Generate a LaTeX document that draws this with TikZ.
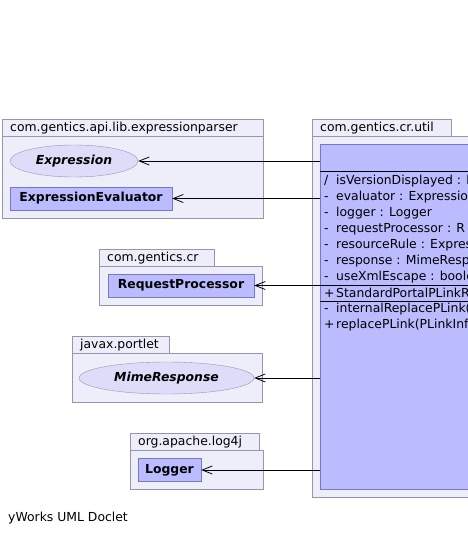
\documentclass[tikz,border=0pt]{standalone}
\usepackage{fontspec}
\setmainfont{DejaVu Sans}
\usepackage{tikz}
\usetikzlibrary{arrows.meta, positioning, shapes.geometric}
\definecolor{pkgfill}{RGB}{238,238,250}
\definecolor{pkgline}{RGB}{150,150,170}
\definecolor{clsfill}{RGB}{187,187,255}
\definecolor{clsline}{RGB}{120,120,190}
\definecolor{ifacefill}{RGB}{221,221,250}
\definecolor{ifaceline}{RGB}{150,150,180}
\newcommand{\visder}{/}

\begin{document}
\begin{tikzpicture}[
  x=1pt, y=-1pt,
  font=\fontsize{12.4}{14}\selectfont,
  pkgtab/.style={draw=pkgline, fill=pkgfill, anchor=north west, minimum height=17pt,
                 inner xsep=8pt, inner ysep=0pt, align=left},
  pkgbody/.style={draw=pkgline, fill=pkgfill, anchor=north west, inner sep=0pt},
  cls/.style={draw=clsline, fill=clsfill, minimum height=23pt, inner xsep=5pt,
              font=\fontsize{12.4}{14}\selectfont\bfseries},
  bigcls/.style={draw=clsline, fill=clsfill, anchor=north west, inner sep=0pt},
  iface/.style={ellipse, draw=ifaceline, fill=ifacefill, inner sep=0pt,
                font=\fontsize{12.4}{14}\selectfont\bfseries\itshape},
  member/.style={anchor=west, inner sep=0pt},
  dep/.style={-{Straight Barb[length=10pt, width=8pt]}, line width=0.8pt}
]
  \useasboundingbox (0,0) rectangle (468,535);
  \clip (0,0) rectangle (468,535);

  % com.gentics.api.lib.expressionparser
  \node[pkgtab, text width=245pt] (tabexpr) at (2,119) {com.gentics.api.lib.expressionparser};
  \node[pkgbody, minimum width=261pt, minimum height=82pt] (pkgexpr) at (tabexpr.south west) {};
  \node[iface, minimum width=128pt, minimum height=32pt] (expression) at (74,161) {Expression};
  \node[cls, minimum width=162pt] (evaluator) at (91,198.5) {ExpressionEvaluator};

  % com.gentics.cr.util
  \node[pkgtab, text width=123pt] (tabutil) at (312,119) {com.gentics.cr.util};
  \node[pkgbody, minimum width=220pt, minimum height=361pt] (pkgutil) at (tabutil.south west) {};
  \node[bigcls, minimum width=200pt, minimum height=345pt] (plink) at (320,144) {};
  \foreach \y in {171,285,301}
    \draw (plink.west |- 0,\y) -- +(200,0);
  \foreach \y/\vis/\txt [count=\i] in {
      181/\visder/{isVersionDisplayed : b},
      197/-/{evaluator : Expressio},
      213/-/{logger : Logger},
      229/-/{requestProcessor : R},
      245/-/{resourceRule : Expres},
      261/-/{response : MimeResp},
      277/-/{useXmlEscape : boole},
      293/+/{StandardPortalPLinkR},
      309/-/{internalReplacePLink(},
      325/+/{replacePLink(PLinkInf}}
    \node[member] (row\i) at (324,\y) {\makebox[12pt][l]{\vis}\txt};

  % com.gentics.cr
  \node[pkgtab, text width=99pt] (tabcr) at (99,249) {com.gentics.cr};
  \node[pkgbody, minimum width=163pt, minimum height=39pt] (pkgcr) at (tabcr.south west) {};
  \node[cls, minimum width=146pt] (reqproc) at (181,285.5) {RequestProcessor};

  % javax.portlet
  \node[pkgtab, text width=81pt] (tabportlet) at (72,336) {javax.portlet};
  \node[pkgbody, minimum width=190pt, minimum height=49pt] (pkgportlet) at (tabportlet.south west) {};
  \node[iface, minimum width=175pt, minimum height=32pt] (mimeresp) at (166.5,378) {MimeResponse};

  % org.apache.log4j
  \node[pkgtab, text width=113pt] (tablog) at (130,433) {org.apache.log4j};
  \node[pkgbody, minimum width=133pt, minimum height=39pt] (pkglog) at (tablog.south west) {};
  \node[cls, minimum width=63pt] (logger) at (169.5,470) {Logger};

  % dependencies
  \draw[dep] (plink.west |- expression) -- (expression);
  \draw[dep] (plink.west |- evaluator) -- (evaluator);
  \draw[dep] (plink.west |- reqproc) -- (reqproc);
  \draw[dep] (plink.west |- mimeresp) -- (mimeresp);
  \draw[dep] (plink.west |- logger) -- (logger);

  \node[anchor=west, inner sep=0pt] (footer) at (8,518) {yWorks UML Doclet};
\end{tikzpicture}
\end{document}
